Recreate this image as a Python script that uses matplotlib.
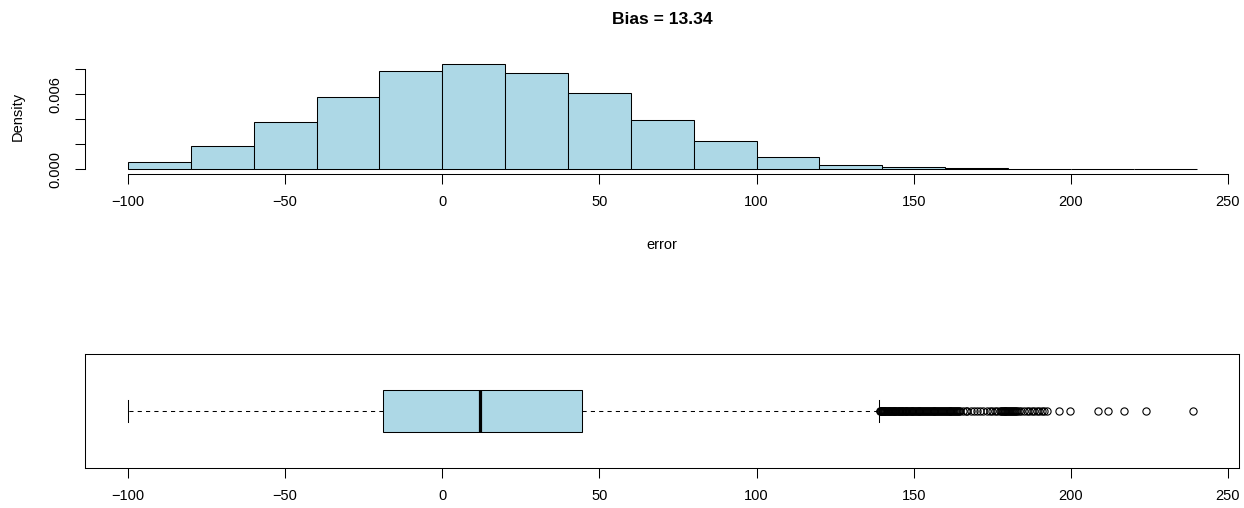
import matplotlib
matplotlib.use("Agg")
import matplotlib.pyplot as plt

plt.rcParams['font.family'] = ['Liberation Sans', 'DejaVu Sans']

# Histogram data (density per 20-unit bin)
bin_edges = [-100, -80, -60, -40, -20, 0, 20, 40, 60, 80, 100, 120, 140, 160, 180, 200, 220, 240]
densities = [0.00056, 0.00186, 0.00378, 0.00581, 0.00789, 0.00840, 0.00768, 0.00610,
             0.00394, 0.00224, 0.00098, 0.00037, 0.00016, 0.00008, 0.00003, 0.000015, 0.00001]

# Boxplot summary
q1 = -18.9
median = 12.1
q3 = 44.35
whisker_low = -99.9
whisker_high = 139.05
outliers = [139.2, 139.4, 139.5, 139.7, 139.9, 140.1, 140.3, 140.5, 140.6, 140.8, 141.0,
            141.3, 141.5, 141.7, 141.9, 142.1, 142.4, 142.6, 142.8, 143.0, 143.3, 143.5,
            143.7, 144.0, 144.2, 144.5, 144.7, 144.9, 145.2, 145.4, 145.7, 145.9, 146.2,
            146.4, 146.7, 147.0, 147.2, 147.5, 147.7, 148.0, 148.3, 148.5, 148.8, 149.1,
            149.3, 149.6, 149.9, 150.2, 150.4, 150.7, 151.0, 151.3, 151.6, 151.8, 152.1,
            152.4, 152.7, 153.0, 153.3, 153.6, 153.9, 154.2, 154.5, 154.8, 155.1, 155.4,
            155.7, 156.0, 156.3, 156.6, 156.9, 157.2, 157.5, 157.8, 158.1, 158.4, 158.7,
            159.0, 159.3, 159.6, 159.9, 160.2, 160.5, 160.8, 161.1, 161.4, 161.7, 162.0,
            162.3, 162.6, 162.9, 163.2, 163.5, 163.8, 164.1, 164.4, 164.7,
            165.6, 166.5, 167.1, 168.2, 169.3, 170.0, 171.2, 172.1, 173.4, 174.2, 175.0,
            175.8, 176.6, 177.3, 177.7, 178.0, 178.3, 178.6, 178.9, 179.2, 179.5, 179.8,
            180.1, 180.4, 180.7, 181.0, 181.3, 181.6, 181.9, 182.2, 182.5, 182.8, 183.4,
            184.2, 185.0, 185.9, 186.7, 187.5, 188.3, 189.1, 189.9, 190.7, 191.5, 192.3,
            196.3, 199.7, 208.5, 211.7, 216.9, 224.0, 239.0]

title_text = "Bias = 13.34"
x_label = "error"
y_label = "Density"
x_ticks = [-100, -50, 0, 50, 100, 150, 200, 250]
y_ticks = [0.0, 0.002, 0.004, 0.006, 0.008]
y_tick_labels = ["0.000", "", "", "0.006", ""]

W, H = 1244, 508
fig = plt.figure(figsize=(W / 100, H / 100), dpi=100)

def frac(x0, y_top, x1, y_bot):
    return [x0 / W, 1 - y_bot / H, (x1 - x0) / W, (y_bot - y_top) / H]

LW = 0.75
FS = 10.5
xlim = (-113.6, 253.6)

# --- Histogram ---
ax1 = fig.add_axes(frac(85.3, 60.1, 1239.3, 173.5))
widths = [bin_edges[i + 1] - bin_edges[i] for i in range(len(densities))]
ax1.bar(bin_edges[:-1], densities, width=widths, align='edge',
        color='#ADD8E6', edgecolor='black', linewidth=LW)
ax1.set_xlim(*xlim)
ymax = max(densities)
ax1.set_ylim(-0.04 * ymax, 1.04 * ymax)
for s in ['top', 'right']:
    ax1.spines[s].set_visible(False)
ax1.spines['left'].set_bounds(0, 0.008)
ax1.spines['bottom'].set_bounds(-100, 250)
for s in ['left', 'bottom']:
    ax1.spines[s].set_linewidth(LW)
ax1.set_xticks(x_ticks)
ax1.set_xticklabels([str(t).replace('-', '\u2212') for t in x_ticks])
ax1.set_yticks(y_ticks)
ax1.set_yticklabels(y_tick_labels, rotation=90, va='center')
ax1.tick_params(axis='both', length=7.2, width=LW, labelsize=FS, pad=8)
ax1.tick_params(axis='y', pad=9)
ax1.set_xlabel(x_label, fontsize=FS, labelpad=21)
ax1.set_ylabel(y_label, fontsize=FS, labelpad=17)
ax1.set_title(title_text, fontsize=12.6, fontweight='bold', pad=26)

# --- Boxplot ---
ax2 = fig.add_axes(frac(85.3, 354, 1239.3, 468))
stats = [dict(med=median, q1=q1, q3=q3, whislo=whisker_low, whishi=whisker_high,
              fliers=outliers)]
ax2.bxp(stats, positions=[1], widths=0.4, orientation='horizontal', patch_artist=True,
        showfliers=True,
        boxprops=dict(facecolor='#ADD8E6', edgecolor='black', linewidth=LW),
        medianprops=dict(color='black', linewidth=2.3, solid_capstyle='butt'),
        whiskerprops=dict(color='black', linewidth=LW, linestyle=(0, (4, 4))),
        capprops=dict(color='black', linewidth=LW),
        flierprops=dict(marker='o', markerfacecolor='none', markeredgecolor='black',
                        markersize=5.2, markeredgewidth=0.8, linestyle='none'))
ax2.set_xlim(*xlim)
ax2.set_ylim(0.46, 1.54)
ax2.set_yticks([])
for s in ax2.spines.values():
    s.set_linewidth(LW)
ax2.set_xticks(x_ticks)
ax2.set_xticklabels([str(t).replace('-', '\u2212') for t in x_ticks])
ax2.tick_params(axis='x', length=7.2, width=LW, labelsize=FS, pad=8)

fig.savefig("out.png", dpi=100)
